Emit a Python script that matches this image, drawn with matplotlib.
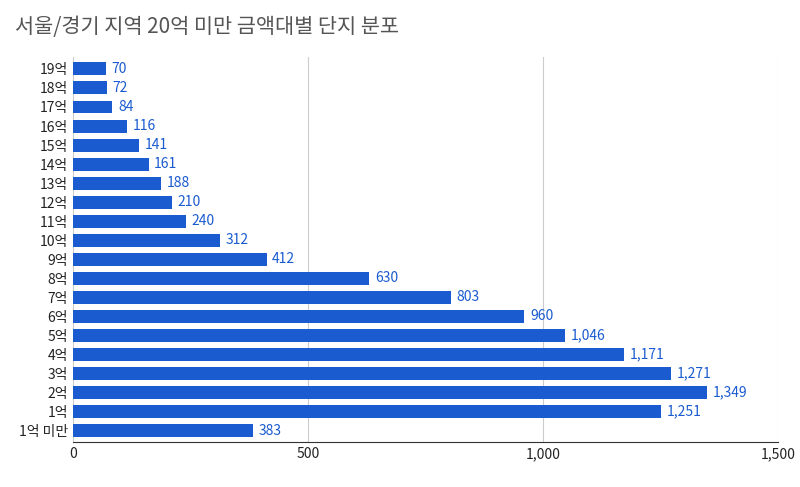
import matplotlib
matplotlib.use('Agg')
import matplotlib.pyplot as plt

plt.rcParams['font.family'] = 'Noto Sans CJK KR'

categories = ["1억 미만", "1억", "2억", "3억", "4억", "5억", "6억", "7억", "8억", "9억",
              "10억", "11억", "12억", "13억", "14억", "15억", "16억", "17억", "18억", "19억"]
counts = [383, 1251, 1349, 1271, 1171, 1046, 960, 803, 630, 412,
          312, 240, 210, 188, 161, 141, 116, 84, 72, 70]
x_ticks = [0, 500, 1000, 1500]
x_tick_labels = ["0", "500", "1,000", "1,500"]

BAR_COLOR = "#1a5bd0"

fig = plt.figure(figsize=(8, 4.87), dpi=100)
ax = fig.add_axes([0.091, 0.092, 0.882, 0.79])

y = range(len(categories))
ax.barh(y, counts, height=0.68, color=BAR_COLOR, zorder=3)
for yi, v in zip(y, counts):
    ax.text(v + 12, yi, f"{v:,}", va='center', ha='left', fontsize=10, color=BAR_COLOR)

ax.set_xlim(0, 1500)
ax.set_ylim(-0.6, len(categories) - 0.4)
ax.set_yticks(list(y))
ax.set_yticklabels(categories, fontsize=10, color="#222222")
ax.set_xticks(x_ticks)
ax.set_xticklabels(x_tick_labels, fontsize=10, color="#222222")
ax.tick_params(length=0)
ax.grid(axis='x', color="#cccccc", linewidth=0.8, zorder=0)
for side in ['top', 'right', 'left']:
    ax.spines[side].set_visible(False)
ax.spines['bottom'].set_color("#333333")

fig.text(0.019, 0.945, "서울/경기 지역 20억 미만 금액대별 단지 분포", fontsize=15,
         color="#555555", va='center', ha='left')

fig.savefig("out.png", dpi=100)
